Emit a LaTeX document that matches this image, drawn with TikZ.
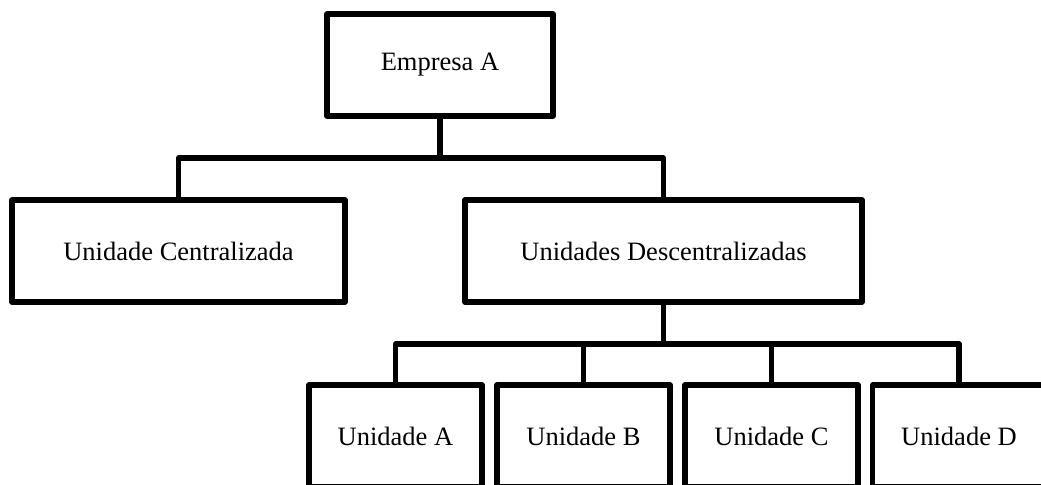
\documentclass[tikz,border=0pt]{standalone}
\usepackage{fontspec}
\setmainfont{Liberation Serif}
\usetikzlibrary{positioning}

\begin{document}
\begin{tikzpicture}[x=0.5pt,y=-0.5pt,line width=2.6pt,line join=round,
  box/.style={draw,rectangle,inner sep=0pt,minimum height=51pt,
    font=\fontsize{13.25}{16}\selectfont},
  unit/.style={box,minimum width=86.5pt}]

\useasboundingbox (0,0) rectangle (1041,484);
\clip (0,0) rectangle (1041,484);

\node[box,minimum width=113pt]   (emp)   at (440,65)    {Empresa A};
 \node[box,minimum width=166.5pt] (cent) at (178.5,251) {Unidade Centralizada};
 \node[box,minimum width=198.5pt] (desc) at (663.5,251) {Unidades Descentralizadas};

\node[unit] (ua) at (395.5,436) {Unidade A};
\node[unit] (ub) at (583.5,436) {Unidade B};
\node[unit] (uc) at (771.5,436) {Unidade C};
\node[unit] (ud) at (959,436)   {Unidade D};

\coordinate (bus1) at (440,158);
\coordinate (bus2) at (663.5,344);

	\draw (emp.south) -- (bus1);
	\draw (cent.north) |- (bus1) -| (desc.north);

	\draw (desc.south) -- (bus2);
	\draw (ua.north) |- (bus2) -| (ud.north);
	\draw (ub.north) -- (ub.north |- bus2);
	\draw (uc.north) -- (uc.north |- bus2);

\end{tikzpicture}
\end{document}
